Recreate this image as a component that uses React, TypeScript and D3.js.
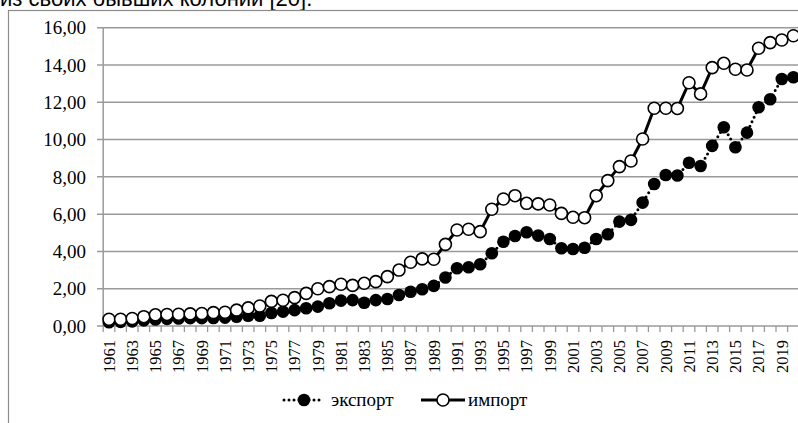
import * as d3 from "d3";

const years = d3.range(1961, 2021);

// экспорт
const exportValues = [
  0.2, 0.22, 0.25, 0.3, 0.35, 0.38, 0.4, 0.42, 0.42, 0.43,
  0.45, 0.5, 0.55, 0.55, 0.7, 0.77, 0.85, 0.95, 1.04, 1.22,
  1.36, 1.39, 1.25, 1.39, 1.45, 1.66, 1.84, 1.97, 2.15, 2.6,
  3.1, 3.15, 3.31, 3.9, 4.52, 4.83, 5.03, 4.85, 4.67, 4.17,
  4.13, 4.2, 4.67, 4.92, 5.6, 5.69, 6.62, 7.62, 8.1, 8.07,
  8.76, 8.58, 9.66, 10.66, 9.59, 10.37, 11.73, 12.16, 13.25, 13.34,
];

// импорт
const importValues = [
  0.36, 0.36, 0.4, 0.5, 0.6, 0.62, 0.63, 0.65, 0.67, 0.72,
  0.74, 0.85, 0.97, 1.07, 1.32, 1.38, 1.52, 1.75, 2.0, 2.11,
  2.24, 2.18, 2.29, 2.38, 2.65, 3.0, 3.42, 3.6, 3.58, 4.38,
  5.15, 5.19, 5.06, 6.26, 6.81, 6.99, 6.58, 6.55, 6.49, 6.04,
  5.83, 5.81, 6.99, 7.8, 8.55, 8.85, 10.03, 11.68, 11.68, 11.67,
  13.05, 12.45, 13.86, 14.09, 13.77, 13.73, 14.9, 15.2, 15.34, 15.57,
];

const yTicks = [0, 2, 4, 6, 8, 10, 12, 14, 16];
const seriesNames = ["экспорт", "импорт"];
const caption = "из своих бывших колоний [20].";

const W = 798;
const H = 423;
const GRID = "#9a9a9a";
const SERIF = "Liberation Serif";

const x = d3
  .scaleBand<number>()
  .domain(years)
  .range([103.2, 103.2 + years.length * 11.6])
  .padding(0);
const cx = (yr: number) => (x(yr) as number) + x.bandwidth() / 2;
const y = d3.scaleLinear().domain([0, 16]).range([326, 27.7]);
const fmt = (v: number) => d3.format(".2f")(v).replace(".", ",");

const line = d3
  .line<number>()
  .x((_, i) => cx(years[i]))
  .y((d) => y(d));

export default function App() {
  const x0 = x.range()[0];
  const x1 = x.range()[1];
  const ly = 400;
  return (
    <svg
      width={W}
      height={H}
      viewBox={`0 0 ${W} ${H}`}
      style={{ position: "absolute", left: 0, top: 0, background: "#fff" }}
    >
      <text x={0} y={6} style={{ fontFamily: "Liberation Sans", fontSize: "22px" }}>
        {caption}
      </text>
      <rect x={8.5} y={10.5} width={820} height={440} fill="#fff" stroke="#8c8c8c" strokeWidth={1.2} />

      {/* gridlines + y ticks */}
      {yTicks.map((t) => (
        <g key={t}>
          <line
            x1={97}
            x2={t === 0 ? x1 : W}
            y1={y(t)}
            y2={y(t)}
            stroke={GRID}
            strokeWidth={1.5}
          />
          <text
            x={86}
            y={y(t)}
            dy="0.35em"
            textAnchor="end"
            style={{ fontFamily: SERIF, fontSize: "19px" }}
          >
            {fmt(t)}
          </text>
        </g>
      ))}
      <line x1={x0} x2={x0} y1={y(16)} y2={y(0)} stroke={GRID} strokeWidth={1.5} />

      {/* x ticks */}
      {years.concat([2021]).map((yr) => {
        const xx = yr === 2021 ? x1 : (x(yr) as number);
        return <line key={yr} x1={xx} x2={xx} y1={326} y2={332} stroke={GRID} strokeWidth={1.3} />;
      })}
      {years
        .filter((yr) => yr % 2 === 1)
        .map((yr) => (
          <text
            key={yr}
            transform={`translate(${cx(yr)},340) rotate(-90)`}
            dy="0.35em"
            textAnchor="end"
            style={{ fontFamily: SERIF, fontSize: "16.5px" }}
          >
            {yr}
          </text>
        ))}

      {/* export */}
      <path
        d={line(exportValues) ?? ""}
        fill="none"
        stroke="#000"
        strokeWidth={3}
        strokeLinecap="round"
        strokeDasharray="0 5"
      />
      {exportValues.map((v, i) => (
        <circle key={i} cx={cx(years[i])} cy={y(v)} r={6.3} fill="#000" />
      ))}

      {/* import */}
      <path d={line(importValues) ?? ""} fill="none" stroke="#000" strokeWidth={3} />
      {importValues.map((v, i) => (
        <circle key={i} cx={cx(years[i])} cy={y(v)} r={6} fill="#fff" stroke="#000" strokeWidth={1.6} />
      ))}

      {/* legend */}
      <line
        x1={284}
        x2={324}
        y1={ly}
        y2={ly}
        stroke="#000"
        strokeWidth={3}
        strokeLinecap="round"
        strokeDasharray="0 5"
      />
      <circle cx={304} cy={ly} r={6.3} fill="#000" />
      <text x={331} y={ly} dy="0.32em" style={{ fontFamily: SERIF, fontSize: "19px" }}>
        {seriesNames[0]}
      </text>
      <line x1={421} x2={465} y1={ly} y2={ly} stroke="#000" strokeWidth={3} />
      <circle cx={443} cy={ly} r={6} fill="#fff" stroke="#000" strokeWidth={1.6} />
      <text x={468} y={ly} dy="0.32em" style={{ fontFamily: SERIF, fontSize: "19px" }}>
        {seriesNames[1]}
      </text>
    </svg>
  );
}
